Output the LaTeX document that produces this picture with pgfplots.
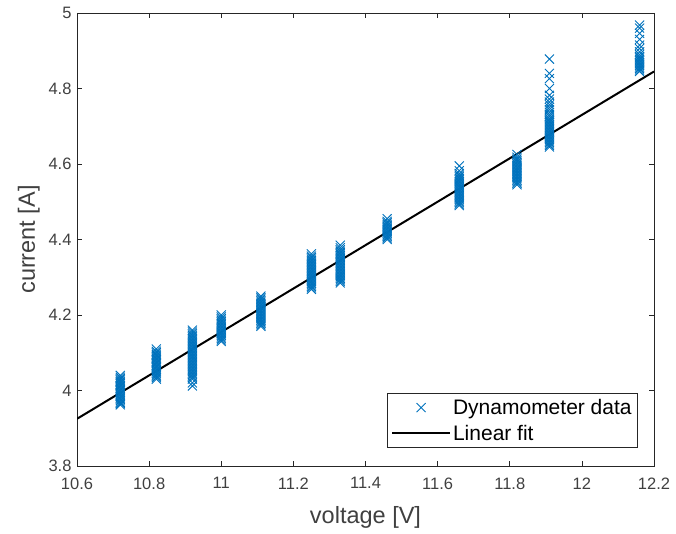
\documentclass[border=0pt]{standalone}
\usepackage{pgfplots}
\pgfplotsset{compat=1.18}
\usepackage{fontspec}
\setmainfont{Liberation Sans}
\definecolor{mlblue}{RGB}{0,114,189}
\definecolor{mlgray}{RGB}{38,38,38}
\definecolor{mltext}{RGB}{64,64,64}

\begin{document}
\begin{tikzpicture}
\begin{axis}[
  scale only axis,
  width=577pt, height=453pt,
  xmin=10.6, xmax=12.2, ymin=3.8, ymax=5,
  xtick={10.6,10.8,...,12.21}, ytick={3.8,4,...,5.01},
  tick align=inside, major tick length=5pt,
  axis line style={mlgray, line width=0.6pt},
  tick style={mlgray, line width=0.6pt},
  /pgf/number format/assume math mode=true,
  tick label style={font=\fontsize{16.5}{19}\selectfont, text=mltext},
  xticklabel style={yshift=-8pt},
  yticklabel style={xshift=-2pt},
  label style={font=\fontsize{23.5}{28}\selectfont, text=mltext},
  xlabel={voltage [V]}, ylabel={current [A]},
  xlabel style={yshift=-10pt},
  ylabel style={yshift=2pt},
  legend style={at={(0.972,0.04)}, anchor=south east, draw=mlgray,
    font=\fontsize{21}{25}\selectfont, cells={anchor=west},
    inner sep=4pt, row sep=5pt},
  legend image code/.code={\draw[mark repeat=2,mark phase=2,#1]
    plot coordinates {(0pt,0pt) (29pt,0pt) (58pt,0pt)};},
]
% dynamometer measurements
\addplot[only marks, mark=x, mark size=6.4pt, mlblue, line width=0.9pt]
  coordinates {
  (10.72,3.962) (10.72,3.966) (10.72,3.969) (10.72,3.973) (10.72,3.977) (10.72,3.980)
  (10.72,3.984) (10.72,3.988) (10.72,3.991) (10.72,3.995) (10.72,3.999) (10.72,4.002)
  (10.72,4.006) (10.72,4.010) (10.72,4.013) (10.72,4.017) (10.72,4.021) (10.72,4.024)
  (10.72,4.028) (10.72,4.031) (10.72,4.035) (10.72,4.040)
  (10.82,4.030) (10.82,4.034) (10.82,4.038) (10.82,4.041) (10.82,4.045) (10.82,4.049)
  (10.82,4.052) (10.82,4.056) (10.82,4.060) (10.82,4.063) (10.82,4.067) (10.82,4.071)
  (10.82,4.074) (10.82,4.078) (10.82,4.082) (10.82,4.085) (10.82,4.089) (10.82,4.093)
  (10.82,4.096) (10.82,4.100) (10.82,4.104) (10.82,4.110)
  (10.92,4.012) (10.92,4.020) (10.92,4.030) (10.92,4.034) (10.92,4.038) (10.92,4.042)
  (10.92,4.046) (10.92,4.050) (10.92,4.054) (10.92,4.058) (10.92,4.062) (10.92,4.066)
  (10.92,4.070) (10.92,4.074) (10.92,4.078) (10.92,4.082) (10.92,4.086) (10.92,4.090)
  (10.92,4.094) (10.92,4.098) (10.92,4.102) (10.92,4.106) (10.92,4.110) (10.92,4.114)
  (10.92,4.118) (10.92,4.122) (10.92,4.126) (10.92,4.130) (10.92,4.134) (10.92,4.138)
  (10.92,4.142) (10.92,4.146) (10.92,4.150) (10.92,4.155) (10.92,4.160)
  (11.00,4.130) (11.00,4.134) (11.00,4.138) (11.00,4.142) (11.00,4.146) (11.00,4.150)
  (11.00,4.154) (11.00,4.158) (11.00,4.162) (11.00,4.166) (11.00,4.170) (11.00,4.174)
  (11.00,4.178) (11.00,4.182) (11.00,4.186) (11.00,4.190) (11.00,4.195) (11.00,4.200)
  (11.11,4.170) (11.11,4.174) (11.11,4.178) (11.11,4.182) (11.11,4.186) (11.11,4.190)
  (11.11,4.194) (11.11,4.198) (11.11,4.202) (11.11,4.206) (11.11,4.210) (11.11,4.214)
  (11.11,4.218) (11.11,4.222) (11.11,4.226) (11.11,4.230) (11.11,4.234) (11.11,4.238)
  (11.11,4.242) (11.11,4.246) (11.11,4.250)
  (11.25,4.268) (11.25,4.272) (11.25,4.276) (11.25,4.280) (11.25,4.284) (11.25,4.288)
  (11.25,4.292) (11.25,4.296) (11.25,4.300) (11.25,4.304) (11.25,4.308) (11.25,4.312)
  (11.25,4.316) (11.25,4.320) (11.25,4.324) (11.25,4.328) (11.25,4.332) (11.25,4.336)
  (11.25,4.340) (11.25,4.344) (11.25,4.348) (11.25,4.352) (11.25,4.356) (11.25,4.362)
  (11.33,4.285) (11.33,4.289) (11.33,4.293) (11.33,4.297) (11.33,4.301) (11.33,4.305)
  (11.33,4.309) (11.33,4.313) (11.33,4.317) (11.33,4.321) (11.33,4.325) (11.33,4.329)
  (11.33,4.333) (11.33,4.337) (11.33,4.341) (11.33,4.345) (11.33,4.349) (11.33,4.353)
  (11.33,4.357) (11.33,4.361) (11.33,4.365) (11.33,4.369) (11.33,4.373) (11.33,4.378)
  (11.33,4.385)
  (11.46,4.400) (11.46,4.404) (11.46,4.408) (11.46,4.412) (11.46,4.416) (11.46,4.420)
  (11.46,4.424) (11.46,4.428) (11.46,4.432) (11.46,4.436) (11.46,4.440) (11.46,4.444)
  (11.46,4.448) (11.46,4.455)
  (11.66,4.490) (11.66,4.494) (11.66,4.498) (11.66,4.502) (11.66,4.506) (11.66,4.510)
  (11.66,4.514) (11.66,4.518) (11.66,4.522) (11.66,4.526) (11.66,4.530) (11.66,4.534)
  (11.66,4.538) (11.66,4.542) (11.66,4.546) (11.66,4.550) (11.66,4.554) (11.66,4.558)
  (11.66,4.562) (11.66,4.566) (11.66,4.570) (11.66,4.575) (11.66,4.582) (11.66,4.595)
  (11.82,4.545) (11.82,4.549) (11.82,4.553) (11.82,4.557) (11.82,4.561) (11.82,4.565)
  (11.82,4.569) (11.82,4.573) (11.82,4.577) (11.82,4.581) (11.82,4.585) (11.82,4.589)
  (11.82,4.593) (11.82,4.597) (11.82,4.601) (11.82,4.605) (11.82,4.609) (11.82,4.613)
  (11.82,4.618) (11.82,4.625)
  (11.91,4.645) (11.91,4.649) (11.91,4.653) (11.91,4.657) (11.91,4.661) (11.91,4.665)
  (11.91,4.669) (11.91,4.673) (11.91,4.677) (11.91,4.681) (11.91,4.685) (11.91,4.689)
  (11.91,4.693) (11.91,4.697) (11.91,4.701) (11.91,4.705) (11.91,4.709) (11.91,4.713)
  (11.91,4.717) (11.91,4.721) (11.91,4.726) (11.91,4.731) (11.91,4.737) (11.91,4.744)
  (11.91,4.750) (11.91,4.757) (11.91,4.764) (11.91,4.772) (11.91,4.782) (11.91,4.800)
  (11.91,4.826) (11.91,4.840) (11.91,4.878)
  (12.16,4.845) (12.16,4.849) (12.16,4.853) (12.16,4.857) (12.16,4.861) (12.16,4.865)
  (12.16,4.869) (12.16,4.873) (12.16,4.877) (12.16,4.881) (12.16,4.885) (12.16,4.890)
  (12.16,4.897) (12.16,4.906) (12.16,4.915) (12.16,4.930) (12.16,4.946) (12.16,4.960)
  (12.16,4.968)
  };
\addlegendentry{Dynamometer data}
% least-squares line
\addplot[black, line width=2pt] coordinates {(10.6,3.925) (12.2,4.845)};
\addlegendentry{Linear fit}
\end{axis}
\pgfresetboundingbox
\path (current axis.south west) ++(-77pt,-67pt) rectangle ([shift={(22pt,13pt)}]current axis.north east);
\end{tikzpicture}
\end{document}
